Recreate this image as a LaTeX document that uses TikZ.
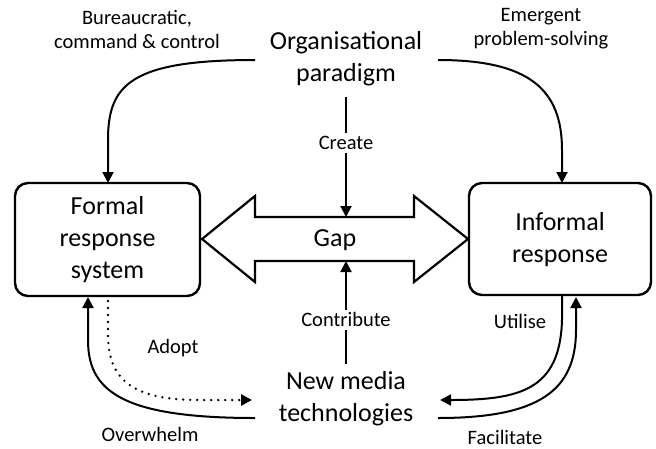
\documentclass[tikz,border=0pt]{standalone}
\usepackage{fontspec}
\setmainfont{Carlito}
\usetikzlibrary{arrows.meta}
\begin{document}
\begin{tikzpicture}[x=1pt,y=-1pt,
  big/.style={font=\fontsize{26}{32}\selectfont,align=center,inner sep=0pt},
  small/.style={font=\fontsize{20.5}{24}\selectfont,align=center,inner sep=0pt},
  respbox/.style={draw,line width=2.4pt,rounded corners=13pt},
  conn/.style={line width=2pt,-{Triangle[length=11pt,width=11pt]}},
  plain/.style={line width=2pt},
  dotline/.style={line width=2.6pt,line cap=round,dash pattern=on 0pt off 7pt,-{Triangle[length=11pt,width=11pt]}},
  lbl/.style={small,fill=white,inner sep=3pt}]
\useasboundingbox (0,0) rectangle (656,448);
% boxes
\draw[respbox] (15,183) rectangle (200,296);
\node[big] (formal) at (107.5,240) {Formal\\response\\system};
\draw[respbox] (469,183) rectangle (651,295);
\node[big] (informal) at (560,240) {Informal\\response};
% gap double arrow
\draw[line width=2.2pt,line join=miter,fill=white] (202,239) -- (255,196) -- (255,217) -- (414,217) -- (414,196) -- (468,239) -- (414,282) -- (414,261) -- (255,261) -- (255,282) -- cycle;
\node[big] (gap) at (335,240) {Gap};
% texts
\node[big] (org) at (346,59) {Organisational\\paradigm};
\node[big] (nmt) at (346,399) {New media\\technologies};
\node[small] (bur) at (137,29) {Bureaucratic,\\command \& control};
\node[small] (emg) at (541,29) {Emergent\\problem-solving};
% coordinates
\coordinate (orgL) at (255,60);
\coordinate (orgR) at (438,60);
\coordinate (orgB) at (346,97);
\coordinate (formalT) at (108,183);
\coordinate (informalT) at (562,183);
\coordinate (gapT) at (346,217);
\coordinate (gapB) at (346,261);
\coordinate (nmtT) at (346,364);
\coordinate (nmtL1) at (252,400);
\coordinate (nmtL2) at (255,418);
\coordinate (nmtR1) at (440,400);
\coordinate (nmtR2) at (438,418);
\coordinate (formalB1) at (88,297);
\coordinate (formalB2) at (108,301);
\coordinate (informalB1) at (562,296);
\coordinate (informalB2) at (576,297);
% paradigm arrows
\draw[conn] (orgL) .. controls (130,60) and (108,85) .. (108,140) -- (formalT);
\draw[conn] (orgR) .. controls (530,60) and (562,90) .. (562,150) -- (informalT);
% create / contribute
\draw[conn] (orgB) -- node[lbl,pos=0.385] (create) {Create} (gapT);
\draw[conn] (nmtT) -- node[lbl,pos=0.43] (contrib) {Contribute} (gapB);
% formal side
\draw[conn] (nmtL2) .. controls (120,418) and (88,390) .. (88,340) -- (formalB1);
\draw[dotline] (formalB2) -- (108,335) .. controls (108,385) and (140,400) .. (200,400) -- (nmtL1);
\node[small] (adopt) at (173,348) {Adopt};
\node[small] (overw) at (150,434) {Overwhelm};
% informal side
\draw[conn] (informalB1) -- (562,320) .. controls (560,390) and (520,400) .. (nmtR1);
\draw[conn] (nmtR2) .. controls (540,418) and (576,390) .. (576,330) -- (informalB2);
\node[small] (util) at (520,321) {Utilise};
\node[small] (facil) at (505,437) {Facilitate};
\end{tikzpicture}
\end{document}
